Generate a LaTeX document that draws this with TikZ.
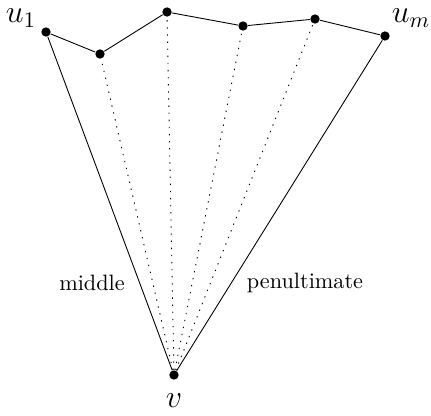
\documentclass[tikz,border=0pt]{standalone}
\begin{document}
\begin{tikzpicture}[x=0.45pt,y=-0.45pt,
  pt/.style={circle,fill=black,inner sep=0pt,minimum size=4.2pt},
  lbl/.style={inner sep=0pt},
  mlbl/.style={inner sep=0pt,font=\Large},
  dots/.style={dash pattern=on 0.6pt off 2.6pt}]
\useasboundingbox (0,0) rectangle (431,415);
\node[pt] (u1) at (46,32) {};
\node[pt] (p2) at (100,54) {};
\node[pt] (p3) at (167,12) {};
\node[pt] (p4) at (243,26) {};
\node[pt] (p5) at (315,19) {};
\node[pt] (um) at (385,36) {};
\node[pt] (v) at (174,375) {};
\node[mlbl] (lu1) at (21,18) {$u_1$};
\node[mlbl] (lum) at (411,18) {$u_m$};
\node[mlbl] (lv) at (174,401) {$v$};
\node[lbl] (lmid) at (92,283) {middle};
\node[lbl] (lpen) at (305,283) {penultimate};
\draw (u1) -- (p2) -- (p3) -- (p4) -- (p5) -- (um);
\draw (v) -- (u1);
\draw (v) -- (um);
\draw[dots] (v) -- (p2);
\draw[dots] (v) -- (p3);
\draw[dots] (v) -- (p4);
\draw[dots] (v) -- (p5);
\end{tikzpicture}
\end{document}
